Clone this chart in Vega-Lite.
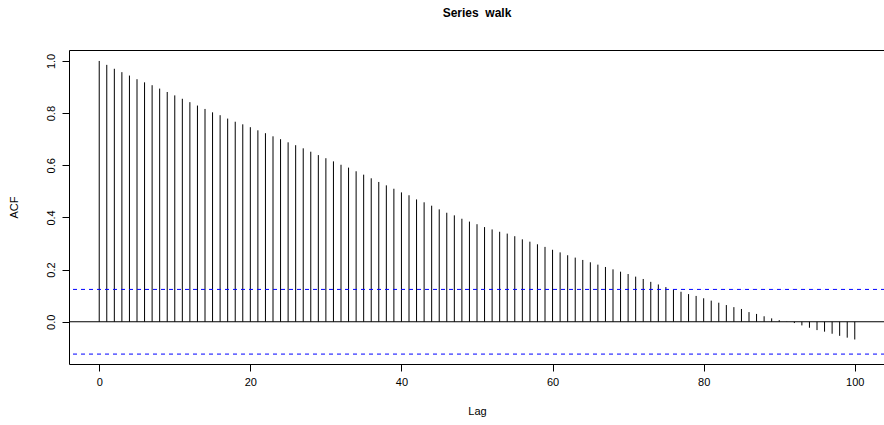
{
  "$schema": "https://vega.github.io/schema/vega-lite/v6.json",
  "autosize": "none",
  "width": 816,
  "height": 314,
  "padding": {"left": 69, "top": 50, "right": 0, "bottom": 61},
  "background": "white",
  "config": {
    "font": "Liberation Sans",
    "view": {"stroke": "black", "strokeWidth": 1},
    "axis": {"grid": false, "domain": false, "tickColor": "black", "tickSize": 7, "labelColor": "black", "titleColor": "black", "labelFont": "Liberation Sans", "titleFont": "Liberation Sans", "labelFontSize": 11, "titleFontSize": 11, "titleFontWeight": "normal"}
  },
  "title": {"text": "Series\u00a0 walk", "font": "Liberation Sans", "fontSize": 12, "fontWeight": "bold", "color": "black", "anchor": "middle", "offset": 30},
  "datasets": {
    "acf": [
      {"lag":0,"acf":1.0},{"lag":1,"acf":0.985},{"lag":2,"acf":0.970},{"lag":3,"acf":0.957},{"lag":4,"acf":0.944},
      {"lag":5,"acf":0.930},{"lag":6,"acf":0.918},{"lag":7,"acf":0.907},{"lag":8,"acf":0.894},{"lag":9,"acf":0.881},
      {"lag":10,"acf":0.868},{"lag":11,"acf":0.855},{"lag":12,"acf":0.842},{"lag":13,"acf":0.829},{"lag":14,"acf":0.816},
      {"lag":15,"acf":0.803},{"lag":16,"acf":0.792},{"lag":17,"acf":0.779},{"lag":18,"acf":0.767},{"lag":19,"acf":0.757},
      {"lag":20,"acf":0.746},{"lag":21,"acf":0.734},{"lag":22,"acf":0.723},{"lag":23,"acf":0.711},{"lag":24,"acf":0.700},
      {"lag":25,"acf":0.688},{"lag":26,"acf":0.677},{"lag":27,"acf":0.665},{"lag":28,"acf":0.652},{"lag":29,"acf":0.639},
      {"lag":30,"acf":0.627},{"lag":31,"acf":0.615},{"lag":32,"acf":0.602},{"lag":33,"acf":0.591},{"lag":34,"acf":0.577},
      {"lag":35,"acf":0.564},{"lag":36,"acf":0.550},{"lag":37,"acf":0.536},{"lag":38,"acf":0.523},{"lag":39,"acf":0.510},
      {"lag":40,"acf":0.496},{"lag":41,"acf":0.485},{"lag":42,"acf":0.469},{"lag":43,"acf":0.458},{"lag":44,"acf":0.445},
      {"lag":45,"acf":0.431},{"lag":46,"acf":0.418},{"lag":47,"acf":0.408},{"lag":48,"acf":0.395},{"lag":49,"acf":0.384},
      {"lag":50,"acf":0.374},{"lag":51,"acf":0.363},{"lag":52,"acf":0.354},{"lag":53,"acf":0.345},{"lag":54,"acf":0.338},
      {"lag":55,"acf":0.328},{"lag":56,"acf":0.316},{"lag":57,"acf":0.307},{"lag":58,"acf":0.297},{"lag":59,"acf":0.287},
      {"lag":60,"acf":0.276},{"lag":61,"acf":0.266},{"lag":62,"acf":0.255},{"lag":63,"acf":0.246},{"lag":64,"acf":0.237},
      {"lag":65,"acf":0.228},{"lag":66,"acf":0.219},{"lag":67,"acf":0.210},{"lag":68,"acf":0.201},{"lag":69,"acf":0.192},
      {"lag":70,"acf":0.183},{"lag":71,"acf":0.173},{"lag":72,"acf":0.164},{"lag":73,"acf":0.153},{"lag":74,"acf":0.143},
      {"lag":75,"acf":0.133},{"lag":76,"acf":0.124},{"lag":77,"acf":0.115},{"lag":78,"acf":0.106},{"lag":79,"acf":0.099},
      {"lag":80,"acf":0.090},{"lag":81,"acf":0.081},{"lag":82,"acf":0.073},{"lag":83,"acf":0.064},{"lag":84,"acf":0.056},
      {"lag":85,"acf":0.049},{"lag":86,"acf":0.037},{"lag":87,"acf":0.030},{"lag":88,"acf":0.021},{"lag":89,"acf":0.013},
      {"lag":90,"acf":0.006},{"lag":91,"acf":0.001},{"lag":92,"acf":-0.005},{"lag":93,"acf":-0.014},{"lag":94,"acf":-0.023},
      {"lag":95,"acf":-0.032},{"lag":96,"acf":-0.038},{"lag":97,"acf":-0.046},{"lag":98,"acf":-0.054},{"lag":99,"acf":-0.061},
      {"lag":100,"acf":-0.068}
    ],
    "zero": [{"level": 0}],
    "bounds": [{"level": 0.124}, {"level": -0.124}]
  },
  "layer": [
    {
      "data": {"name": "acf"},
      "mark": {"type": "rule", "color": "black", "strokeWidth": 1},
      "encoding": {
        "x": {"field": "lag", "type": "quantitative", "scale": {"domain": [-4, 104], "nice": false, "zero": false},
              "axis": {"values": [0, 20, 40, 60, 80, 100], "title": "Lag", "labelPadding": 5, "titlePadding": 18}},
        "y": {"field": "acf", "type": "quantitative", "scale": {"domain": [-0.162, 1.042], "nice": false, "zero": false},
              "axis": {"values": [0, 0.2, 0.4, 0.6, 0.8, 1.0], "format": ".1f", "title": "ACF", "labelAngle": -90, "labelAlign": "center", "labelBaseline": "bottom", "labelPadding": 6, "titlePadding": 26}},
        "y2": {"datum": 0}
      }
    },
    {
      "data": {"name": "zero"},
      "mark": {"type": "rule", "color": "black", "strokeWidth": 1},
      "encoding": {"y": {"field": "level", "type": "quantitative"}}
    },
    {
      "data": {"name": "bounds"},
      "mark": {"type": "rule", "color": "#0000FF", "strokeWidth": 1, "strokeDash": [4, 4]},
      "encoding": {"y": {"field": "level", "type": "quantitative"}}
    }
  ]
}
